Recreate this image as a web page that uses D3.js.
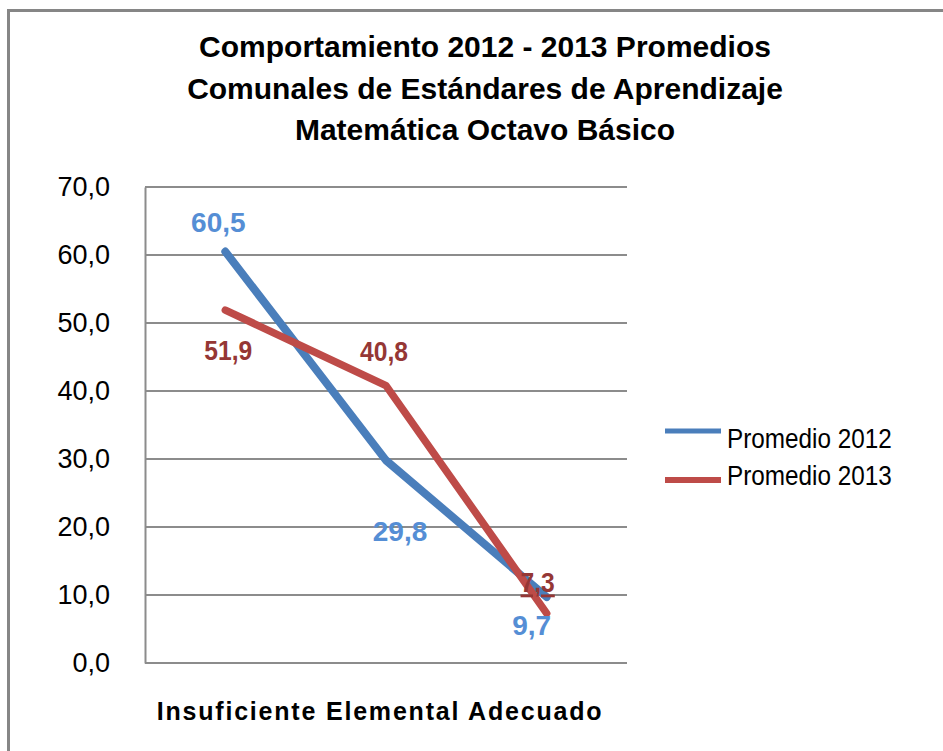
<!DOCTYPE html>
<html>
<head>
<meta charset="utf-8">
<script src="https://cdn.jsdelivr.net/npm/d3@7"></script>
<style>
  body { margin: 0; background: #fff; }
  svg text { font-family: "Liberation Sans", Arial, sans-serif; }
</style>
</head>
<body>
<div id="chart"></div>
<script>
const categories = ["Insuficiente", "Elemental", "Adecuado"];
const seriesNames = ["Promedio 2012", "Promedio 2013"];
const values2012 = [60.5, 29.8, 9.7];
const values2013 = [51.9, 40.8, 7.3];
const yTicks = [0, 10, 20, 30, 40, 50, 60, 70];
const titleLines = [
    "Comportamiento 2012 - 2013 Promedios",
    "Comunales de Estándares de Aprendizaje",
    "Matemática Octavo Básico"
];

const width = 943;
const height = 751;
const margin = { top: 187, left: 145, right: 316, bottom: 88 };

const fmt = v => d3.format(".1f")(v).replace(".", ",");

const svg = d3.select("#chart")
    .append("svg")
    .attr("width", width)
    .attr("height", height);

// outer frame of the chart (right and bottom run off the picture)
svg.append("rect")
    .attr("x", 8.5).attr("y", 10.5)
    .attr("width", width).attr("height", height)
    .attr("fill", "none")
    .attr("stroke", "#868686")
    .attr("stroke-width", 3);

// title
svg.append("text")
    .attr("x", 485)
    .attr("y", 57)
    .attr("text-anchor", "middle")
    .attr("font-size", 30)
    .attr("font-weight", "bold")
    .selectAll("tspan")
    .data(titleLines)
    .enter().append("tspan")
    .attr("x", 485)
    .attr("dy", (d, i) => i === 0 ? 0 : 41.5)
    .text(d => d);

const x = d3.scalePoint()
    .domain(categories)
    .range([margin.left, width - margin.right])
    .padding(0.5);

const y = d3.scaleLinear()
    .domain([0, 70])
    .range([height - margin.bottom, margin.top]);

// gridlines
svg.append("g")
    .selectAll("line")
    .data(yTicks)
    .enter().append("line")
    .attr("x1", margin.left)
    .attr("x2", width - margin.right)
    .attr("y1", d => y(d))
    .attr("y2", d => y(d))
    .attr("stroke", "#8c8c8c")
    .attr("stroke-width", 2);

// y axis
const yAxis = svg.append("g")
    .attr("transform", `translate(${margin.left},0)`)
    .call(d3.axisLeft(y)
        .tickValues(yTicks)
        .tickSize(0)
        .tickPadding(35)
        .tickFormat(fmt));
yAxis.select(".domain").attr("stroke", "#8c8c8c").attr("stroke-width", 2);
yAxis.selectAll("text")
    .attr("font-size", 27)
    .attr("fill", "#000");

// category labels, run together on one line below the axis
svg.append("text")
    .attr("x", 380)
    .attr("y", 720)
    .attr("text-anchor", "middle")
    .attr("font-size", 25)
    .attr("font-weight", "bold")
    .attr("letter-spacing", 1.8)
    .text(categories.join(" "));

const series = [
    { name: seriesNames[0], values: values2012, color: "#4a7ebb", label: "#558ed5", squeeze: 1, w: 8 },
    { name: seriesNames[1], values: values2013, color: "#be4b48", label: "#953735", squeeze: 0.88, w: 7.5 }
];

const line = d3.line()
    .x((d, i) => x(categories[i]))
    .y(d => y(d));

svg.append("g")
    .selectAll("path")
    .data(series)
    .enter().append("path")
    .attr("d", d => line(d.values))
    .attr("fill", "none")
    .attr("stroke", d => d.color)
    .attr("stroke-width", d => d.w)
    .attr("stroke-linecap", "round")
    .attr("stroke-linejoin", "round");

// data labels, offset from their points as in the picture
const labelOffsets = [
    [[-7, -20], [14, 81], [-15, 38]],
    [[3, 50], [-2, -25], [-9, -21]]
];
series.forEach((s, si) => {
    s.values.forEach((v, i) => {
        const [dx, dy] = labelOffsets[si][i];
        const t = svg.append("text")
            .attr("transform", `translate(${x(categories[i]) + dx},${y(v) + dy}) scale(${s.squeeze},1)`)
            .attr("text-anchor", "middle")
            .attr("font-size", 28)
            .attr("font-weight", "bold")
            .attr("fill", s.label)
            .text(fmt(v));
        if (si === 1 && i === 2) t.attr("text-decoration", "underline");
    });
});

// legend
const legendRows = [
    { line: 431, text: 448 },
    { line: 480, text: 485 }
];
const legend = svg.append("g")
    .selectAll("g")
    .data(series)
    .enter().append("g");
legend.append("line")
    .attr("x1", 665).attr("x2", 721)
    .attr("y1", (d, i) => legendRows[i].line)
    .attr("y2", (d, i) => legendRows[i].line)
    .attr("stroke", d => d.color)
    .attr("stroke-width", (d, i) => i === 0 ? 5 : 6);
legend.append("text")
    .attr("transform", (d, i) => `translate(727,${legendRows[i].text}) scale(0.9,1)`)
    .attr("font-size", 27)
    .text(d => d.name);
</script>
</body>
</html>
